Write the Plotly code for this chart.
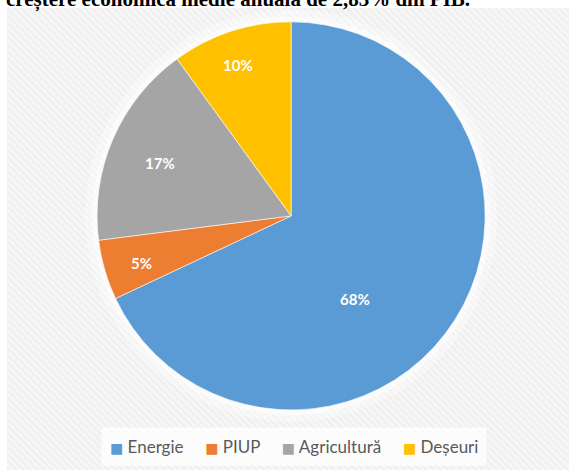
import math
import plotly.graph_objects as go

categories = ["Energie", "PIUP", "Agricultură", "Deșeuri"]
values = [68, 5, 17, 10]
colors = ["#5B9BD5", "#ED7D31", "#A5A5A5", "#FFC000"]
header_text = "creștere economică medie anuală de 2,83% din PIB."

# label placement (fraction of radius, extra turn in degrees) – style only
label_r = [0.54, 0.87, 0.83, 0.88]
label_turn = [20, 0, 0, 0]

W, H = 569, 470
ML, MR, MT, MB = 7, 0, 8, 0
PW, PH = W - ML - MR, H - MT - MB
dom_x = [0.160, 0.851]
dom_y = [0.130, 0.970]

fig = go.Figure()

# striped chart-area background
fig.add_trace(go.Scatter(
    x=[0, 1, 1, 0, 0], y=[0, 0, 1, 1, 0],
    fill="toself", mode="none", hoverinfo="skip", showlegend=False,
    fillcolor="#f4f4f4",
    fillpattern=dict(shape="\\", bgcolor="#f6f6f6", fgcolor="#e5e5e5",
                     size=5, solidity=0.4),
    xaxis="x", yaxis="y",
))

# soft white glow behind the pie (decoration)
for g, op in [(12, 0.35), (5, 0.5)]:
    gx = g / PW
    gy = g / PH
    fig.add_trace(go.Pie(
        values=[1], labels=["glow"], sort=False, textinfo="none",
        marker=dict(colors=[f"rgba(255,255,255,{op})"], line=dict(width=0)),
        domain=dict(x=[dom_x[0] - gx, dom_x[1] + gx],
                    y=[dom_y[0] - gy, min(1.0, dom_y[1] + gy)]),
        hoverinfo="skip", showlegend=False,
    ))

fig.add_trace(go.Pie(
    labels=categories, values=values, sort=False,
    direction="clockwise", rotation=0,
    marker=dict(colors=colors, line=dict(color="white", width=0.6)),
    textinfo="none",
    domain=dict(x=dom_x, y=dom_y),
    hoverinfo="label+percent", showlegend=False,
))

# percentage labels placed from the data (cumulative angles)
cx = ML + PW * (dom_x[0] + dom_x[1]) / 2
cy = MT + PH * (1 - (dom_y[0] + dom_y[1]) / 2)
rad = min(PW * (dom_x[1] - dom_x[0]), PH * (dom_y[1] - dom_y[0])) / 2
total = sum(values)
annotations = []
cum = 0
for v, f, t in zip(values, label_r, label_turn):
    mid = (cum + v / 2) / total * 360 + t
    cum += v
    px = cx + rad * f * math.sin(math.radians(mid))
    py = cy - rad * f * math.cos(math.radians(mid))
    annotations.append(dict(
        text=f"{round(v / total * 100)}%", xref="paper", yref="paper",
        x=(px - ML) / PW, y=1 - (py - MT) / PH, showarrow=False,
        font=dict(family="Lato", size=15, color="white", weight="bold"),
    ))

# legend line built from categories and colours
sep = "&nbsp;" * 5
legend_text = sep.join(
    f'<span style="color:{c};font-family:DejaVu Sans;font-size:14px">■</span>&nbsp;{n}'
    for n, c in zip(categories, colors)
)
annotations.append(dict(
    text=legend_text, xref="paper", yref="paper", x=(294 - ML) / PW, y=0.05,
    xanchor="center", yanchor="middle", showarrow=False,
    font=dict(family="Lato", size=17, color="#595959"),
    bgcolor="rgba(255,255,255,0.75)", borderpad=8,
))

annotations.append(dict(
    text=header_text, xref="paper", yref="paper",
    x=(472 - ML) / PW, y=1, xanchor="right", yanchor="bottom", yshift=-6,
    showarrow=False,
    font=dict(family="Liberation Serif", size=21, color="black", weight="bold"),
))

fig.update_layout(
    width=W, height=H,
    margin=dict(l=ML, r=MR, t=MT, b=MB),
    paper_bgcolor="white", plot_bgcolor="rgba(0,0,0,0)",
    xaxis=dict(range=[0, 1], visible=False, fixedrange=True),
    yaxis=dict(range=[0, 1], visible=False, fixedrange=True),
    showlegend=False,
    annotations=annotations,
)

fig.write_html("out.html", config={"displayModeBar": False},
               post_script="document.body.style.margin='0';")
